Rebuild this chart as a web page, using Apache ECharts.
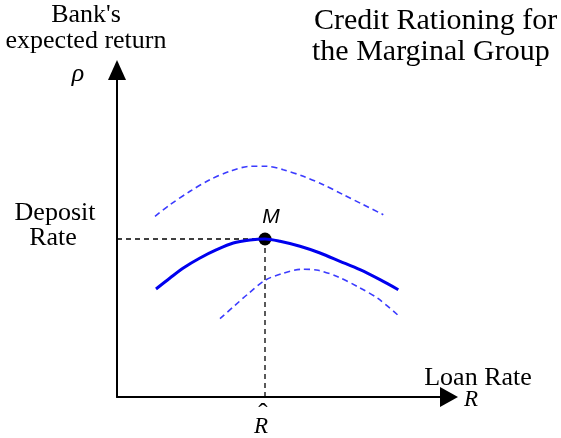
<!DOCTYPE html>
<html>
<head>
<meta charset="utf-8">
<script src="https://cdn.jsdelivr.net/npm/echarts@6/dist/echarts.min.js"></script>
<style>
  html, body { margin: 0; padding: 0; background: #fff; }
  #main { width: 561px; height: 438px; }
</style>
</head>
<body>
<div id="main"></div>
<script>
// curves, x = loan rate, y = expected return (axis units)
var solidCurve = [[39, 108], [53, 119], [66.3, 129], [83, 139], [99.7, 147.3], [116.3, 154], [133, 157], [148, 158],
  [163, 155.7], [183, 150.7], [203, 144], [223, 135.7], [243, 127.3], [263, 117.3], [281.3, 107.3]];
var upperCurve = [[38, 180.7], [53, 192.3], [73, 205.7], [93, 217.3], [113, 225.7], [133, 230.7], [149.7, 230.7],
  [166.3, 227.3], [186.3, 220.7], [206.3, 212.3], [226.3, 202.3], [246.3, 192.3], [266.3, 182.3]];
var lowerCurve = [[103, 78.3], [118, 91.7], [131.3, 103.3], [148, 116.7], [164.7, 123.3], [184.7, 127.7],
  [201.3, 126.7], [221.3, 120], [241.3, 110], [261.3, 98.3], [283, 80]];
var pointM = [148, 158];
var titleLines = ["Credit Rationing for", "the Marginal Group"];

var serif = "Liberation Serif";
var myChart = echarts.init(document.getElementById("main"));

function label(text, x, y, size, italic, family) {
  return {
    type: "text",
    x: x,
    y: y,
    style: {
      text: text,
      fontFamily: family || serif,
      fontSize: size,
      fontStyle: italic ? "italic" : "normal",
      fill: "#000",
      align: "center",
      verticalAlign: "middle"
    }
  };
}

var hiddenAxis = {
  type: "value",
  min: 0,
  axisLine: {
    show: true,
    symbol: ["none", "triangle"],
    lineStyle: { color: "#000", width: 2 }
  },
  axisTick: { show: false },
  axisLabel: { show: false },
  splitLine: { show: false }
};

var option = {
  animation: false,
  grid: { left: 117, right: 112, top: 70, bottom: 41 },
  xAxis: Object.assign({}, hiddenAxis, {
    max: 332,
    axisLine: Object.assign({}, hiddenAxis.axisLine, { symbolSize: [20, 18] })
  }),
  yAxis: Object.assign({}, hiddenAxis, {
    max: 327,
    axisLine: Object.assign({}, hiddenAxis.axisLine, { symbolSize: [18, 20] })
  }),
  graphic: [
    { type: "text", x: 314, y: 21, style: { text: titleLines[0], fontFamily: serif, fontSize: 30, fill: "#000", verticalAlign: "middle" } },
    { type: "text", x: 312, y: 52, style: { text: titleLines[1], fontFamily: serif, fontSize: 30, fill: "#000", verticalAlign: "middle" } },
    label("Bank's", 86, 15, 26),
    label("expected return", 86, 41, 26),
    label("ρ", 78, 74, 26, true),
    label("Deposit", 55, 213, 26),
    label("Rate", 53, 238, 26),
    label("Loan Rate", 478, 378, 26),
    label("R", 471, 400, 23, true),
    label("R", 261, 427, 23, true),
    label("ˆ", 263, 415, 28),
    label("M", 271, 217, 21, true, "Liberation Sans")
  ],
  series: [
    {
      type: "line",
      data: [[0, pointM[1]], pointM],
      symbol: "none",
      lineStyle: { color: "#000", width: 1.3, type: [5, 4] }
    },
    {
      type: "line",
      data: [pointM, [pointM[0], 0]],
      symbol: "none",
      lineStyle: { color: "#000", width: 1.3, type: [5, 4] }
    },
    {
      type: "line",
      data: upperCurve,
      smooth: 0.3,
      symbol: "none",
      lineStyle: { color: "#3b3bff", width: 1.6, type: [6, 4] }
    },
    {
      type: "line",
      data: lowerCurve,
      smooth: 0.3,
      symbol: "none",
      lineStyle: { color: "#3b3bff", width: 1.6, type: [6, 4] }
    },
    {
      type: "line",
      data: solidCurve,
      smooth: 0.3,
      symbol: "none",
      lineStyle: { color: "#0000ee", width: 3 }
    },
    {
      type: "scatter",
      data: [pointM],
      symbolSize: 13,
      itemStyle: { color: "#000", opacity: 1 }
    }
  ]
};
myChart.setOption(option);
</script>
</body>
</html>
